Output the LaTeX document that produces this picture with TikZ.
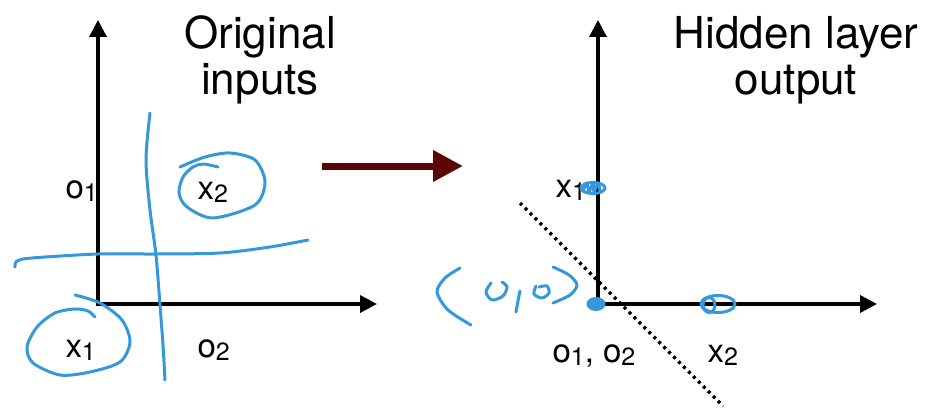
\documentclass[tikz,border=0pt]{standalone}
\usepackage{fontspec}
\setmainfont{TeX Gyre Heros}
\usetikzlibrary{arrows.meta,positioning}
\definecolor{penblue}{RGB}{52,152,219}
\definecolor{mapred}{RGB}{91,6,6}
\newcommand{\sublbl}[2]{#1\raisebox{-0.1em}{\fontsize{25}{25}\selectfont #2}}
\tikzset{
  every picture/.style={line width=3pt},
  sAxis/.style={line width=3.5pt, {Triangle[length=17pt,width=17pt]}-{Triangle[length=17pt,width=17pt]}},
  sPen/.style={draw=penblue, line width=3pt, line cap=round, line join=round},
  sMap/.style={draw=mapred, line width=7pt, -{Triangle[length=30pt,width=30pt]}},
  sBound/.style={line width=3.4pt, dash pattern=on 3pt off 4pt},
  sTitle/.style={font=\fontsize{44}{50}\selectfont, inner sep=0pt, anchor=base},
  sLabel/.style={font=\fontsize{33}{36}\selectfont, inner sep=0pt, anchor=base west},
}

\begin{document}
\begin{tikzpicture}[x=1pt,y=-1pt]
  \useasboundingbox (0,0) rectangle (930,412);
  % axes
  \coordinate (Lo) at (98,304);
  \coordinate (Ly) at (98,20);
  \coordinate (Lx) at (377,304);
  \coordinate (Ro) at (598,304);
  \coordinate (Ry) at (598,20);
  \coordinate (Rx) at (877,304);
  \draw[sAxis] (Ly) -- (Lo) -- (Lx);
  \draw[sAxis] (Ry) -- (Ro) -- (Rx);

  % titles
  \node[sTitle] (titleLa) at (260,49) {Original};
  \node[sTitle] (titleLb) at (260,95) {inputs};
  \node[sTitle] (titleRa) at (796,49) {Hidden layer};
  \node[sTitle] (titleRb) at (796,95) {output};

  % labels, original inputs
  \node[sLabel] (o1L) at (64,198)  {\sublbl{o}{1}};
  \node[sLabel] (x2L) at (196,199) {\sublbl{x}{2}};
  \node[sLabel] (x1L) at (64,357)  {\sublbl{x}{1}};
  \node[sLabel] (o2L) at (196,357) {\sublbl{o}{2}};

  % labels, hidden layer output
  \node[sLabel] (x1R)  at (554,197) {\sublbl{x}{1}};
  \node[sLabel] (o12R) at (551,362) {\sublbl{o}{1}, \sublbl{o}{2}};
  \node[sLabel] (x2R)  at (706,362) {\sublbl{x}{2}};

  % mapping arrow
  \coordinate (mapA) at (322,166);
  \coordinate (mapB) at (463,166);
  \draw[sMap] (mapA) -- (mapB);

  % decision boundary
  \coordinate (cutA) at (520,203);
  \coordinate (cutB) at (723,406);
  \draw[sBound] (cutA) -- (cutB);

  % pen strokes, left
  \draw[sPen] plot[smooth] coordinates {(150,113) (146,160) (150,210) (156,255) (160,305) (163,345) (165,380)};
  \draw[sPen] plot[smooth] coordinates {(15,267) (17,261) (32,258) (98,254) (155,254) (220,253) (270,247) (308,240)};
  \draw[sPen] plot[smooth] coordinates {(180,167) (205,157) (230,153) (255,160) (265,182) (255,205) (213,218) (187,207) (179,193) (183,177) (193,167) (203,164) (218,167)};
  \draw[sPen] plot[smooth] coordinates {(75,295) (100,303) (122,320) (130,342) (120,362) (90,372) (60,375) (33,363) (27,347) (37,327) (55,313) (75,309) (88,311) (95,317)};

  % pen strokes, right
  \draw[sPen] (593,188) ellipse[x radius=12, y radius=5.5];
  \draw[sPen] plot[smooth] coordinates {(583,191) (587,183) (589,192) (593,183) (594,192) (598,183) (600,191)};
  \fill[penblue] (596,304) ellipse[x radius=9.5, y radius=7];
  \draw[sPen] (718,304) ellipse[x radius=17, y radius=8.5];
  \draw[sPen] (709,305) ellipse[x radius=6, y radius=7.5];
  \draw[sPen] plot[smooth] coordinates {(460,268) (445,278) (437,292) (448,310) (471,325)};
  \draw[sPen] plot[smooth] coordinates {(491,283) (486,292) (492,300) (503,296) (507,287) (502,282)};
  \draw[sPen] plot[smooth] coordinates {(520,291) (518,301) (516,312)};
  \draw[sPen] plot[smooth] coordinates {(536,286) (534,294) (542,298) (549,293) (547,286) (539,287)};
  \draw[sPen] plot[smooth] coordinates {(553,267) (569,275) (577,285) (570,295) (553,303)};
\end{tikzpicture}
\end{document}
